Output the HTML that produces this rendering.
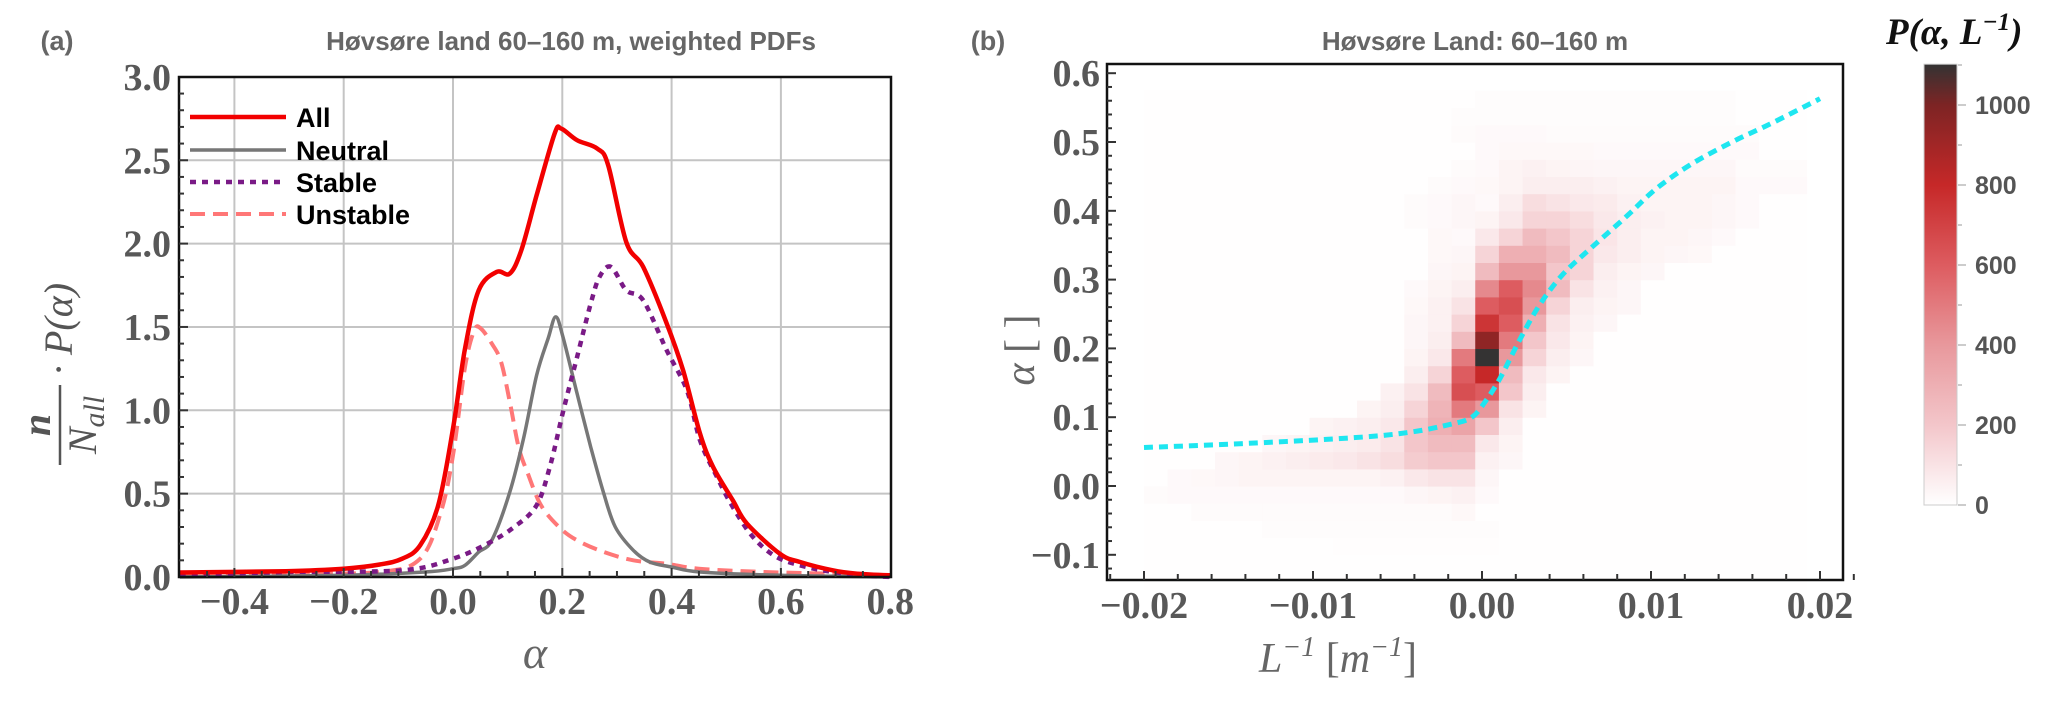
<!DOCTYPE html>
<html><head><meta charset="utf-8"><style>
html,body{margin:0;padding:0;background:#fff;}
svg{display:block;}
text{font-family:"Liberation Sans",sans-serif;}
.serif{font-family:"Liberation Serif",serif;}
</style></head><body>
<svg id="fig" width="2067" height="703" viewBox="0 0 2067 703" xmlns="http://www.w3.org/2000/svg">
<g id="left"></g>
<g id="right"></g>
</svg>
<script>
// ---------- Panel (a) data ----------
const allAlpha = [-0.5,-0.306,-0.2,-0.134,-0.093,-0.06,-0.027,0,0.022,0.047,0.08,0.104,0.125,0.153,0.186,0.198,0.227,0.264,0.284,0.317,0.348,0.39,0.421,0.452,0.476,0.512,0.538,0.598,0.635,0.695,0.74,0.8];
const allVals  = [0.027,0.035,0.05,0.075,0.11,0.19,0.43,0.89,1.37,1.72,1.83,1.82,1.96,2.29,2.66,2.69,2.62,2.57,2.47,2.01,1.86,1.53,1.24,0.86,0.66,0.46,0.32,0.14,0.09,0.04,0.02,0.01];
const neutralAlpha = [-0.5,-0.2,-0.052,0,0.022,0.047,0.071,0.104,0.129,0.153,0.174,0.188,0.202,0.227,0.252,0.276,0.297,0.33,0.36,0.4,0.452,0.6,0.8];
const neutralVals  = [0.0,0.01,0.03,0.05,0.07,0.15,0.22,0.51,0.83,1.21,1.43,1.56,1.43,1.1,0.78,0.5,0.3,0.16,0.09,0.06,0.03,0.01,0.0];
const stableAlpha = [-0.5,-0.306,-0.093,0,0.063,0.112,0.153,0.178,0.202,0.227,0.252,0.268,0.289,0.317,0.348,0.391,0.428,0.452,0.483,0.512,0.549,0.592,0.647,0.695,0.75,0.8];
const stableVals  = [0.01,0.03,0.04,0.11,0.2,0.3,0.43,0.67,1.0,1.32,1.64,1.8,1.86,1.72,1.66,1.36,1.12,0.82,0.6,0.42,0.24,0.12,0.06,0.03,0.01,0.0];
const unstableAlpha = [-0.5,-0.306,-0.134,-0.06,-0.023,0,0.022,0.039,0.051,0.071,0.088,0.104,0.12,0.137,0.161,0.194,0.227,0.276,0.33,0.39,0.45,0.57,0.69,0.8];
const unstableVals  = [0.01,0.02,0.03,0.11,0.38,0.73,1.26,1.48,1.49,1.4,1.29,1.05,0.78,0.62,0.43,0.3,0.22,0.15,0.1,0.08,0.05,0.03,0.02,0.01];
const leftXTicks = [-0.4,-0.2,0.0,0.2,0.4,0.6,0.8];
const leftXTickLabels = ["\u22120.4","\u22120.2","0.0","0.2","0.4","0.6","0.8"];
const leftYTicks = [0,0.5,1,1.5,2,2.5,3];
const leftYTickLabels = ["0.0","0.5","1.0","1.5","2.0","2.5","3.0"];

// ---------- Panel (b) data ----------
const invLEdgeStart = -0.02, invLBinWidth = 0.0014, invLBinCount = 28;
const alphaEdgeStart = -0.15, alphaBinWidth = 0.025;
const alphaBinLow = [-0.15,-0.125,-0.1,-0.075,-0.05,-0.025,0,0.025,0.05,0.075,0.1,0.125,0.15,0.175,0.2,0.225,0.25,0.275,0.3,0.325,0.35,0.375,0.4,0.425,0.45,0.475,0.5,0.525,0.55];
const densityBackground = 4;
const densityRows = [
 {},
 {10:5,11:5,12:5,13:5,14:5},
 {8:8,9:8,10:8,11:8,12:8,13:8,14:8},
 {5:10,6:10,7:10,8:10,9:10,10:10,11:10,12:10,13:10,14:10},
 {2:15,3:15,4:15,5:15,6:15,7:15,8:15,9:15,10:15,11:15,12:15,13:25},
 {0:15,1:20,2:20,3:20,4:20,5:20,6:20,7:20,8:20,9:20,10:20,11:30,12:40,13:50,14:20},
 {1:20,2:25,3:30,4:40,5:40,6:40,7:40,8:40,9:40,10:50,11:80,12:100,13:100,14:30},
 {3:30,4:40,5:50,6:60,7:70,8:80,9:100,10:120,11:180,12:200,13:200,14:50,15:30},
 {5:30,6:40,7:50,8:60,9:70,10:100,11:200,12:250,13:250,14:80,15:40},
 {7:40,8:50,9:60,10:80,11:200,12:300,13:350,14:200,15:60},
 {9:40,10:60,11:150,12:280,13:500,14:400,15:100,16:40},
 {10:50,11:100,12:250,13:650,14:600,15:200,16:60},
 {11:60,12:150,13:600,14:800,15:250,16:80,17:40},
 {11:40,12:80,13:500,14:1100,15:400,16:150,17:60,18:30},
 {11:30,12:60,13:250,14:950,15:500,16:200,17:80,18:40},
 {11:30,12:50,13:150,14:750,15:600,16:300,17:100,18:50,19:30},
 {11:25,12:50,13:100,14:600,15:650,16:400,17:150,18:60,19:40,20:30},
 {11:20,12:40,13:60,14:450,15:600,16:450,17:250,18:100,19:50,20:30},
 {12:30,13:40,14:250,15:400,16:400,17:200,18:150,19:60,20:40,21:30},
 {12:25,13:30,14:150,15:300,16:300,17:250,18:150,19:80,20:60,21:40,22:30,23:25},
 {12:25,13:20,14:80,15:150,16:250,17:200,18:150,19:90,20:60,21:40,22:40,23:30,24:20},
 {11:15,12:20,13:30,14:40,15:80,16:150,17:150,18:120,19:80,20:60,21:50,22:40,23:40,24:30,25:20},
 {11:15,12:20,13:30,14:20,15:60,16:120,17:100,18:80,19:70,20:50,21:40,22:40,23:40,24:30,25:20},
 {12:15,13:20,14:25,15:40,16:60,17:60,18:60,19:50,20:40,21:40,22:40,23:40,24:40,25:20,26:20,27:20},
 {13:15,14:20,15:40,16:50,17:40,18:35,19:30,20:30,21:30,22:30,23:30,24:30,25:15,26:15,27:15},
 {14:20,15:25,16:25,17:25,18:25,19:20,20:20,21:20,22:20,23:20,24:20,25:20},
 {13:15,14:20,15:20,16:20,17:15,18:15,19:15,20:15,21:15,22:15,23:15,24:15,25:15},
 {13:12,14:12,15:12,16:12,17:12,18:12,19:12,20:12,21:12,22:12,23:12,24:12},
 {14:10,15:10,16:10,17:10,18:10,19:10,20:10,21:10,22:10,23:10,24:10}
];
const fitInvL  = [-0.02,-0.0147,-0.0077,-0.0043,-0.0018,-0.0006,0.0002,0.0011,0.0022,0.0034,0.0048,0.0065,0.0086,0.0103,0.0124,0.0148,0.0172,0.02];
const fitAlpha = [0.056,0.061,0.070,0.078,0.090,0.100,0.123,0.158,0.211,0.263,0.308,0.347,0.393,0.432,0.468,0.500,0.528,0.563];
const rightXTicks = [-0.02,-0.01,0,0.01,0.02];
const rightXTickLabels = ["\u22120.02","\u22120.01","0.00","0.01","0.02"];
const rightYTicks = [-0.1,0,0.1,0.2,0.3,0.4,0.5,0.6];
const rightYTickLabels = ["\u22120.1","0.0","0.1","0.2","0.3","0.4","0.5","0.6"];
const cbTicks = [0,200,400,600,800,1000];
const cbTickLabels = ["0","200","400","600","800","1000"];
const cbMax = 1102;

const NS="http://www.w3.org/2000/svg";
function mk(tag, attrs, parent){const e=document.createElementNS(NS,tag);for(const k in attrs)e.setAttribute(k,attrs[k]);parent.appendChild(e);return e;}
function smoothPath(pts){
  let d="M"+pts[0][0].toFixed(1)+","+pts[0][1].toFixed(1);
  for(let i=0;i<pts.length-1;i++){
    const p0=pts[i-1]||pts[i],p1=pts[i],p2=pts[i+1],p3=pts[i+2]||p2;
    const c1=[p1[0]+(p2[0]-p0[0])/6,p1[1]+(p2[1]-p0[1])/6];
    const c2=[p2[0]-(p3[0]-p1[0])/6,p2[1]-(p3[1]-p1[1])/6];
    d+=" C"+c1[0].toFixed(1)+","+c1[1].toFixed(1)+" "+c2[0].toFixed(1)+","+c2[1].toFixed(1)+" "+p2[0].toFixed(1)+","+p2[1].toFixed(1);
  }
  return d;
}

// ---------- Panel (a) ----------
const L=document.getElementById('left');
const lx=a=>453+a*546.5, ly=v=>577-v*166.7;
const LF={x0:179,x1:891,y0:77,y1:577};
let t;
t=mk('text',{x:57,y:50,'font-size':27,'font-weight':'bold',fill:'#666','text-anchor':'middle'},L);t.textContent='(a)';

t=mk('text',{x:571,y:50,'font-size':26,'font-weight':'bold',fill:'#666','text-anchor':'middle'},L);t.textContent='Høvsøre land 60–160 m, weighted PDFs';

leftXTicks.forEach(a=>{ if(a>-0.5&&a<0.8){const g=mk('line',{x1:lx(a),x2:lx(a),y1:LF.y0,y2:LF.y1,stroke:'#c4c4c4','stroke-width':2},L);
 }});
leftYTicks.forEach(v=>{ if(v>0&&v<3){const g=mk('line',{x1:LF.x0,x2:LF.x1,y1:ly(v),y2:ly(v),stroke:'#c4c4c4','stroke-width':2},L);
 }});
function curve(xs,ys,color,w,dash,name){
  const pts=xs.map((a,i)=>[lx(a),ly(ys[i])]);
  const p=mk('path',{d:smoothPath(pts),fill:'none',stroke:color,'stroke-width':w,'stroke-linejoin':'round'},L);
  if(dash)p.setAttribute('stroke-dasharray',dash);
  
}
curve(unstableAlpha,unstableVals,'#ff7777',4,'15,8','unstable-curve');
curve(neutralAlpha,neutralVals,'#777',3.5,null,'neutral-curve');
curve(stableAlpha,stableVals,'#7a1a86',4.5,'6,6','stable-curve');
curve(allAlpha,allVals,'#f20000',4.5,null,'all-curve');
let fr=mk('rect',{x:LF.x0,y:LF.y0,width:LF.x1-LF.x0,height:LF.y1-LF.y0,fill:'none',stroke:'#111','stroke-width':2.5},L);

for(let a=-0.45;a<0.8;a+=0.05){const big=Math.abs(Math.round(a*10)/10-a)<1e-6&&Math.round(a*10)%2===0;
  mk('line',{x1:lx(a),x2:lx(a),y1:LF.y1,y2:LF.y1-(big?9:6),stroke:'#333','stroke-width':2},L);}
for(let v=0.1;v<3;v+=0.1){mk('line',{x1:LF.x0,x2:LF.x0+(Math.abs(v*2-Math.round(v*2))<1e-6?9:5),y1:ly(v),y2:ly(v),stroke:'#333','stroke-width':2},L);}
leftXTicks.forEach((a,i)=>{const e=mk('text',{x:lx(a),y:614,'font-size':38,'font-weight':'bold',fill:'#585858','text-anchor':'middle',class:'serif'},L);e.textContent=leftXTickLabels[i];
 });
leftYTicks.forEach((v,i)=>{const e=mk('text',{x:171,y:ly(v)+13,'font-size':38,'font-weight':'bold',fill:'#585858','text-anchor':'end',class:'serif'},L);e.textContent=leftYTickLabels[i];
 });
t=mk('text',{x:535,y:668,'font-size':46,'font-style':'italic',fill:'#666','text-anchor':'middle',class:'serif'},L);t.textContent='α';

const yl=mk('g',{transform:'translate(58,330) rotate(-90)'},L);

t=mk('text',{x:-95,y:-8,'font-size':40,'font-style':'italic','font-weight':'bold',fill:'#555','text-anchor':'middle',class:'serif'},yl);t.textContent='n';
mk('line',{x1:-135,x2:-55,y1:2,y2:2,stroke:'#555','stroke-width':2.5},yl);
t=mk('text',{x:-95,y:38,'font-size':40,'font-style':'italic',fill:'#555','text-anchor':'middle',class:'serif'},yl);t.textContent='N';
t=mk('tspan',{'font-size':30,dy:8},t);t.textContent='all';
t=mk('text',{x:-45,y:14,'font-size':40,'font-style':'italic',fill:'#555','text-anchor':'start',class:'serif'},yl);t.textContent='· P(α)';
const legend=[['All','#f20000',null,4.5],['Neutral','#777',null,3.5],['Stable','#7a1a86','6,6',4.5],['Unstable','#ff7777','15,8',4]];
const legendY=[117,150,182,214];
legend.forEach((l,i)=>{const g=mk('g',{},L);
  const ln=mk('line',{x1:190,x2:286,y1:legendY[i],y2:legendY[i],stroke:l[1],'stroke-width':l[3]},g);if(l[2])ln.setAttribute('stroke-dasharray',l[2]);
  const e=mk('text',{x:296,y:legendY[i]+10,'font-size':27,'font-weight':'bold',fill:'#000'},g);e.textContent=l[0];});

// ---------- Panel (b) ----------
const R=document.getElementById('right');
const rx=v=>1482+v*16900, ry=a=>486-a*688;
const RF={x0:1107,x1:1843,y0:64,y1:580};
t=mk('text',{x:988,y:50,'font-size':27,'font-weight':'bold',fill:'#666','text-anchor':'middle'},R);t.textContent='(b)';

t=mk('text',{x:1475,y:50,'font-size':26,'font-weight':'bold',fill:'#666','text-anchor':'middle'},R);t.textContent='Høvsøre Land: 60–160 m';

const stops=[[0,[255,255,255]],[200,[243,198,202]],[400,[232,152,156]],[600,[221,92,96]],[800,[198,40,40]],[1000,[125,36,36]],[1102,[51,51,51]]];
function cmap(v){v=Math.max(0,Math.min(cbMax,v));for(let i=0;i<stops.length-1;i++){const a=stops[i],b=stops[i+1];if(v<=b[0]){const f=(v-a[0])/(b[0]-a[0]);
 return 'rgb('+a[1].map((c,k)=>Math.round(c+(b[1][k]-c)*f)).join(',')+')';}}return 'rgb(51,51,51)';}
const hm=mk('g',{},R);
alphaBinLow.forEach((a,r)=>{for(let c=0;c<invLBinCount;c++){
  const v=(densityRows[r][c]!==undefined)?densityRows[r][c]:densityBackground;
  const x0=rx(invLEdgeStart+c*invLBinWidth),x1=rx(invLEdgeStart+(c+1)*invLBinWidth);
  const cell=mk('rect',{x:x0.toFixed(2),y:ry(a+alphaBinWidth).toFixed(2),width:(x1-x0+0.6).toFixed(2),height:(alphaBinWidth*688+0.6).toFixed(2),fill:cmap(v)},hm);
  
}});
const fit=mk('path',{d:smoothPath(fitInvL.map((v,i)=>[rx(v),ry(fitAlpha[i])])),fill:'none',stroke:'#1ee6f0','stroke-width':5,'stroke-dasharray':'9,6'},R);

fr=mk('rect',{x:RF.x0,y:RF.y0,width:RF.x1-RF.x0,height:RF.y1-RF.y0,fill:'none',stroke:'#111','stroke-width':2.5},R);

for(let k=-11;k<=11;k++){const v=k*0.002;const big=k%5===0;mk('line',{x1:rx(v),x2:rx(v),y1:RF.y1,y2:RF.y1-(big?9:6),stroke:'#333','stroke-width':2},R);}
for(let k=-6;k<=30;k++){const a=k*0.02;if(ry(a)<RF.y0||ry(a)>RF.y1)continue;const big=k%5===0;mk('line',{x1:RF.x0,x2:RF.x0+(big?9:5),y1:ry(a),y2:ry(a),stroke:'#333','stroke-width':2},R);}
rightXTicks.forEach((v,i)=>{const e=mk('text',{x:rx(v),y:618,'font-size':38,'font-weight':'bold',fill:'#585858','text-anchor':'middle',class:'serif'},R);e.textContent=rightXTickLabels[i];
 });
rightYTicks.forEach((a,i)=>{const e=mk('text',{x:1100,y:ry(a)+13,'font-size':38,'font-weight':'bold',fill:'#585858','text-anchor':'end',class:'serif'},R);e.textContent=rightYTickLabels[i];
 });
t=mk('text',{x:1338,y:672,'font-size':42,'font-style':'italic',fill:'#666','text-anchor':'middle',class:'serif'},R);

t.innerHTML='L<tspan font-size="28" dy="-16">−1</tspan><tspan dy="16" font-style="normal">  [</tspan>m<tspan font-size="28" dy="-16">−1</tspan><tspan dy="16" font-style="normal">]</tspan>';
t=mk('text',{x:0,y:0,'font-size':42,'font-style':'italic',fill:'#666','text-anchor':'middle',class:'serif',transform:'translate(1034,350) rotate(-90)'},R);

t.innerHTML='α<tspan font-style="normal">  [ ]</tspan>';
const cby=v=>505-v*0.4;
const defs=mk('defs',{},R);const lg=mk('linearGradient',{id:'cbg',x1:0,y1:1,x2:0,y2:0},defs);
stops.forEach(s=>mk('stop',{offset:(s[0]/cbMax).toFixed(3),'stop-color':'rgb('+s[1].join(',')+')'},lg));
const cb=mk('rect',{x:1924,y:cby(cbMax),width:33,height:cby(0)-cby(cbMax),fill:'url(#cbg)',stroke:'#ccc','stroke-width':1},R);

for(let v=0;v<=1100;v+=100){mk('line',{x1:1958,x2:v%200===0?1966:1962,y1:cby(v),y2:cby(v),stroke:'#bbb','stroke-width':1.5},R);}
cbTicks.forEach((v,i)=>{const e=mk('text',{x:1975,y:cby(v)+9,'font-size':25,'font-weight':'bold',fill:'#555'},R);e.textContent=cbTickLabels[i];
 });
t=mk('text',{x:1886,y:44,'font-size':37,'font-style':'italic','font-weight':'bold',fill:'#111',class:'serif'},R);

t.innerHTML='P(α, L<tspan font-size="25" dy="-14">−1</tspan><tspan dy="14">)</tspan>';
</script>
</body></html>
